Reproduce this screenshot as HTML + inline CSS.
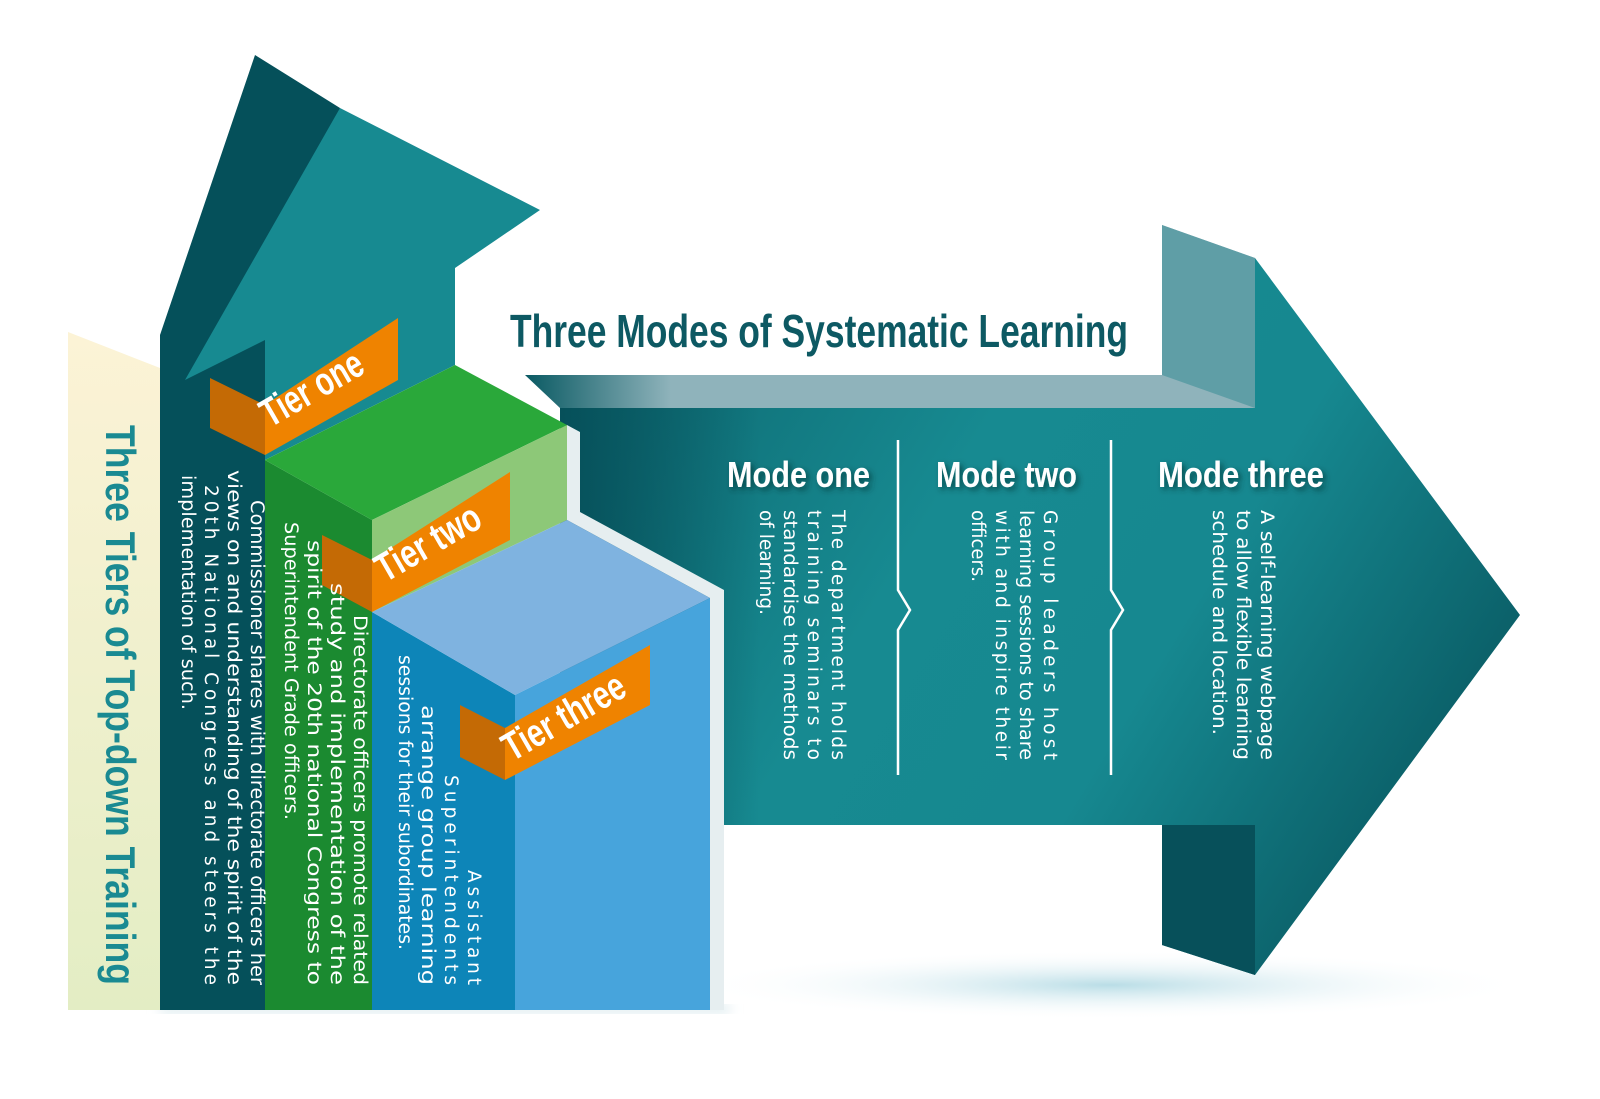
<!DOCTYPE html>
<html><head><meta charset="utf-8"><style>
html,body{margin:0;padding:0;background:#fff;}
svg{display:block;}
text{font-family:"Liberation Sans",sans-serif;}
.b{font-weight:bold;}
.t{font-family:"DejaVu Sans","Liberation Sans",sans-serif;fill:#fff;font-size:18.5px;}
</style></head><body>
<svg width="1600" height="1099" viewBox="0 0 1600 1099" xmlns="http://www.w3.org/2000/svg">
<defs>
<linearGradient id="cream" x1="0" y1="0" x2="0" y2="1"><stop offset="0" stop-color="#fcf3d6"/><stop offset="1" stop-color="#e3edc4"/></linearGradient>
<linearGradient id="front" x1="560" y1="400" x2="1480" y2="960" gradientUnits="userSpaceOnUse">
<stop offset="0" stop-color="#0d6870"/><stop offset="0.35" stop-color="#178a91"/><stop offset="0.6" stop-color="#168890"/><stop offset="1" stop-color="#064d56"/></linearGradient>
<linearGradient id="leftdark" x1="560" y1="0" x2="760" y2="0" gradientUnits="userSpaceOnUse">
<stop offset="0" stop-color="#06505a" stop-opacity="1"/><stop offset="1" stop-color="#06505a" stop-opacity="0"/></linearGradient>
<linearGradient id="topface" x1="525" y1="0" x2="1255" y2="0" gradientUnits="userSpaceOnUse">
<stop offset="0" stop-color="#0a5a63"/><stop offset="0.2" stop-color="#8fb3bb"/><stop offset="1" stop-color="#8fb3bb"/></linearGradient>
<radialGradient id="shadow" cx="0.5" cy="0.5" r="0.5"><stop offset="0" stop-color="#b9dde6"/><stop offset="1" stop-color="#ffffff" stop-opacity="0"/></radialGradient>
<filter id="ds" x="-10%" y="-30%" width="130%" height="170%"><feDropShadow dx="3" dy="3" stdDeviation="3" flood-color="#033" flood-opacity="0.7"/></filter>
<filter id="blur"><feGaussianBlur stdDeviation="6"/></filter>
</defs>

<ellipse cx="1110" cy="985" rx="420" ry="35" fill="url(#shadow)"/>
<rect x="160" y="1005" width="570" height="8" fill="#d8e8ec" filter="url(#blur)"/>

<polygon points="525,375 1162,375 1162,225 1255,258 1255,408 560,408" fill="url(#topface)"/>
<polygon points="1162,225 1255,258 1255,408 1162,375" fill="#5f9ea6"/>
<polygon points="560,408 1255,408 1255,258 1520,615 1255,975 1162,945 1162,825 560,825" fill="url(#front)"/>
<rect x="560" y="408" width="200" height="417" fill="url(#leftdark)"/>
<polygon points="1162,825 1255,825 1255,975 1162,945" fill="#07505a"/>

<polygon points="255,55 340,108 265,400 265,1010 160,1010 160,335" fill="#05505a"/>
<polygon points="68,332 160,368 160,1010 68,1010" fill="url(#cream)"/>
<polygon points="340,108 540,210 455,268 455,365 265,460 265,340 185,380" fill="#178a91"/>

<polygon points="265,460 265,1010 372,1010 372,520" fill="#1b8a30"/>
<polygon points="265,460 455,365 567,425 372,520" fill="#2aa83a"/>
<polygon points="372,520 567,425 567,520 372,612" fill="#8dc878"/>

<polygon points="567,425 580,432 580,512 724,590 724,1010 710,1010 710,598 567,520" fill="#e6eef0"/>

<polygon points="372,612 515,695 515,1010 372,1010" fill="#0d85b8"/>
<polygon points="372,612 567,520 710,598 515,695" fill="#7fb3e0"/>
<polygon points="515,695 710,598 710,1010 515,1010" fill="#47a4dc"/>

<polygon points="210,378 265,405 265,455 210,428" fill="#c46a05"/>
<polygon points="265,405 398,318 398,380 265,455" fill="#ef8300"/>
<text class="b" font-size="40" fill="#fff" textLength="112" lengthAdjust="spacingAndGlyphs" transform="translate(270,428) rotate(-30)">Tier one</text>

<polygon points="322,535 372,560 372,612 322,585" fill="#c46a05"/>
<polygon points="372,560 510,472 510,540 372,612" fill="#ef8300"/>
<text class="b" font-size="40" fill="#fff" textLength="115" lengthAdjust="spacingAndGlyphs" transform="translate(385,583) rotate(-30)">Tier two</text>

<polygon points="460,705 505,728 505,780 460,757" fill="#c46a05"/>
<polygon points="505,728 650,645 650,705 505,780" fill="#ef8300"/>
<text class="b" font-size="40" fill="#fff" textLength="135" lengthAdjust="spacingAndGlyphs" transform="translate(512,762) rotate(-30)">Tier three</text>

<text class="b" font-size="42" fill="#1a8a92" textLength="560" lengthAdjust="spacingAndGlyphs" transform="translate(106,425) rotate(90)">Three Tiers of Top-down Training</text>

<text class="t" textLength="485" lengthAdjust="spacingAndGlyphs" transform="translate(251,500) rotate(90)">Commissioner shares with directorate officers her</text>
<text class="t" textLength="515" lengthAdjust="spacingAndGlyphs" transform="translate(228,470) rotate(90)">views on and understanding of the spirit of the</text>
<text class="t" textLength="500" lengthAdjust="spacing" transform="translate(205,485) rotate(90)">20th National Congress and steers the</text>
<text class="t" textLength="235" lengthAdjust="spacingAndGlyphs" transform="translate(182,475) rotate(90)">implementation of such.</text>

<text class="t" textLength="370" lengthAdjust="spacingAndGlyphs" transform="translate(354,615) rotate(90)">Directorate officers promote related</text>
<text class="t" textLength="402" lengthAdjust="spacingAndGlyphs" transform="translate(331,583) rotate(90)">study and implementation of the</text>
<text class="t" textLength="445" lengthAdjust="spacingAndGlyphs" transform="translate(308,540) rotate(90)">spirit of the 20th national Congress to</text>
<text class="t" textLength="298" lengthAdjust="spacingAndGlyphs" transform="translate(285,522) rotate(90)">Superintendent Grade officers.</text>

<text class="t" textLength="115" lengthAdjust="spacing" transform="translate(468,870) rotate(90)">Assistant</text>
<text class="t" textLength="210" lengthAdjust="spacing" transform="translate(445,775) rotate(90)">Superintendents</text>
<text class="t" textLength="280" lengthAdjust="spacingAndGlyphs" transform="translate(422,705) rotate(90)">arrange group learning</text>
<text class="t" textLength="295" lengthAdjust="spacingAndGlyphs" transform="translate(399,655) rotate(90)">sessions for their subordinates.</text>

<text class="b" x="510" y="347" font-size="46" fill="#0d5963" textLength="618" lengthAdjust="spacingAndGlyphs">Three Modes of Systematic Learning</text>

<g filter="url(#ds)">
<text class="b" x="727" y="487" font-size="36" fill="#fff" textLength="143" lengthAdjust="spacingAndGlyphs">Mode one</text>
<text class="b" x="936" y="487" font-size="36" fill="#fff" textLength="141" lengthAdjust="spacingAndGlyphs">Mode two</text>
<text class="b" x="1158" y="487" font-size="36" fill="#fff" textLength="166" lengthAdjust="spacingAndGlyphs">Mode three</text>
</g>

<path d="M898,440 V590 L910,610 L898,630 V775" stroke="#fff" stroke-width="2.5" fill="none"/>
<path d="M1111,440 V590 L1123,610 L1111,630 V775" stroke="#fff" stroke-width="2.5" fill="none"/>

<text class="t" textLength="250" lengthAdjust="spacing" transform="translate(832,510) rotate(90)">The department holds</text>
<text class="t" textLength="250" lengthAdjust="spacing" transform="translate(808,510) rotate(90)">training seminars to</text>
<text class="t" textLength="250" lengthAdjust="spacingAndGlyphs" transform="translate(784,510) rotate(90)">standardise the methods</text>
<text class="t" textLength="105" lengthAdjust="spacingAndGlyphs" transform="translate(760,510) rotate(90)">of learning.</text>

<text class="t" textLength="250" lengthAdjust="spacing" transform="translate(1044,510) rotate(90)">Group leaders host</text>
<text class="t" textLength="250" lengthAdjust="spacingAndGlyphs" transform="translate(1020,510) rotate(90)">learning sessions to share</text>
<text class="t" textLength="250" lengthAdjust="spacing" transform="translate(996,510) rotate(90)">with and inspire their</text>
<text class="t" textLength="72" lengthAdjust="spacingAndGlyphs" transform="translate(972,510) rotate(90)">officers.</text>

<text class="t" textLength="250" lengthAdjust="spacingAndGlyphs" transform="translate(1261,510) rotate(90)">A self-learning webpage</text>
<text class="t" textLength="250" lengthAdjust="spacingAndGlyphs" transform="translate(1237,510) rotate(90)">to allow flexible learning</text>
<text class="t" textLength="225" lengthAdjust="spacingAndGlyphs" transform="translate(1213,510) rotate(90)">schedule and location.</text>
</svg>
</body></html>
